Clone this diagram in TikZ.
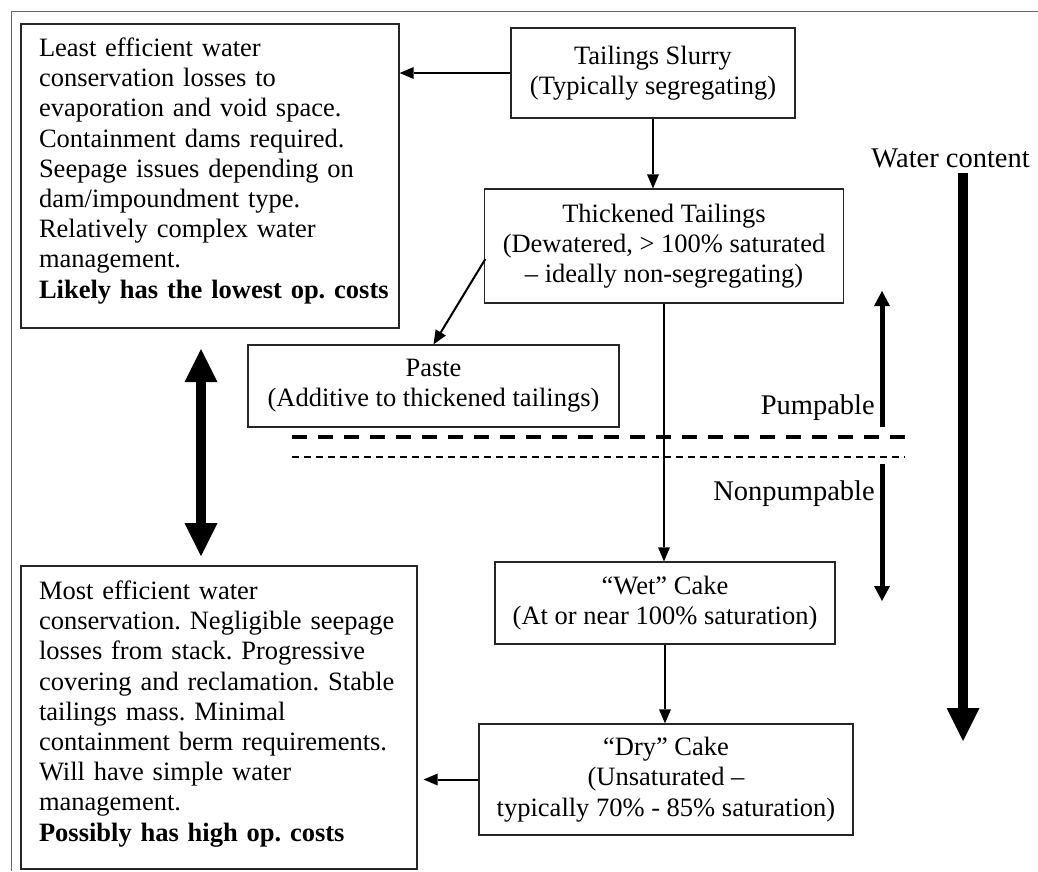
\documentclass[tikz,border=0pt]{standalone}
\usepackage{fontspec}
\setmainfont{Liberation Serif}
\usetikzlibrary{arrows.meta,calc}

\tikzset{
  bigtip/.tip={Triangle[length=33pt,width=33pt,line width=0pt]},
  smalltip/.tip={Triangle[length=14pt,width=12pt,line width=0pt]},
  scaletip/.tip={Triangle[length=15pt,width=16pt,line width=0pt]}
}

\begin{document}
\frenchspacing
\begin{tikzpicture}[x=1pt,y=-1pt,
  txt/.style={font=\fontsize{26.5}{30.2}\selectfont},
  sidelabel/.style={font=\fontsize{28.5}{32}\selectfont, inner sep=0pt},
  box/.style={txt, draw=black!85, line width=1.3pt, inner sep=0pt, align=center},
  notebox/.style={txt, draw=black!85, line width=1.3pt, inner ysep=0pt, inner xsep=18pt, align=left},
  flow/.style={line width=2pt, -smalltip},
  scalearrow/.style={line width=5pt, -scaletip}
]
\useasboundingbox (0,0) rectangle (1038,871);

% outer frame (top and left edges)
\draw[black!60, line width=1pt] (11,871) -- (11,11) -- (1038,11);

% process stages
\node[box, minimum width=284pt, minimum height=90pt] (slurry) at (653,73)
  {Tailings Slurry\\(Typically segregating)};
\node[box, minimum width=359pt, minimum height=114pt] (thick) at (664,246)
  {Thickened Tailings\\(Dewatered, > 100\% saturated\\– ideally non-segregating)};
\node[box, minimum width=371pt, minimum height=82pt] (paste) at (433.5,386)
  {Paste\\(Additive to thickened tailings)};
\node[box, minimum width=340pt, minimum height=82pt] (wet) at (665,603)
  {“Wet” Cake\\(At or near 100\% saturation)};
\node[box, minimum width=374pt, minimum height=111pt] (dry) at (666,779.5)
  {“Dry” Cake\\(Unsaturated –\\typically 70\% - 85\% saturation)};

% descriptive notes
\node[notebox, text width=342pt, minimum height=304pt] (least) at (210,176)
  {Least efficient water\\
   conservation losses to\\
   evaporation and void space.\\
   Containment dams required.\\
   Seepage issues depending on\\
   dam/impoundment type.\\
   Relatively complex water\\
   management.\\
   \mbox{\textbf{Likely has the lowest op. costs}}\rule[-16pt]{0pt}{0pt}};
\node[notebox, text width=360pt, minimum height=303pt] (most) at (219,717.5)
  {Most efficient water\\
   \mbox{conservation. Negligible seepage}\\
   losses from stack. Progressive\\
   \mbox{covering and reclamation. Stable}\\
   tailings mass. Minimal\\
   \mbox{containment berm requirements.}\\
   Will have simple water\\
   management.\\
   \textbf{Possibly has high op. costs}\rule[-13pt]{0pt}{0pt}};

% flow connectors
\draw[flow] (slurry.west) -- (slurry.west -| least.east);
\draw[flow] (slurry.south) -- (slurry.south |- thick.north);
\draw[flow] ($(thick.west)+(1.5,13)$) -- (paste.north);
\draw[flow] (thick.south) -- (thick.south |- wet.north);
\draw[flow] (wet.south) -- (wet.south |- dry.north);
\draw[flow, shorten >=6pt] (dry.west) -- (dry.west -| most.east);

% pumpability boundary
\draw[line width=4pt, dash pattern=on 14.5pt off 11.5pt] (292,437) coordinate (dA) -- (908,437) coordinate (dB);
\draw[line width=1.5pt, dash pattern=on 6.5pt off 5.5pt] (292,457) coordinate (dC) -- (905,457) coordinate (dD);

% efficiency range between the two notes
\coordinate (effTop) at (201,349);
\coordinate (effBot) at (201,556);
\draw[line width=10pt, bigtip-bigtip] (effTop) -- (effBot);

% water content scale
\node[sidelabel, anchor=base east] (wclabel) at (1030,167) {Water content};
\coordinate (wcTop) at (963,173);
\coordinate (wcBot) at (963,741);
\draw[line width=10pt, -bigtip] (wcTop) -- (wcBot);

% pumpable / nonpumpable ranges
\node[sidelabel, anchor=base east] (pumplabel) at (875,414) {Pumpable};
\node[sidelabel, anchor=base east] (nonpumplabel) at (875,500) {Nonpumpable};
\coordinate (pBot) at (882,427);
\coordinate (pTop) at (882,291);
\coordinate (nTop) at (882,464);
\coordinate (nBot) at (882,601);
\draw[scalearrow] (pBot) -- (pTop);
\draw[scalearrow] (nTop) -- (nBot);
\end{tikzpicture}
\end{document}
